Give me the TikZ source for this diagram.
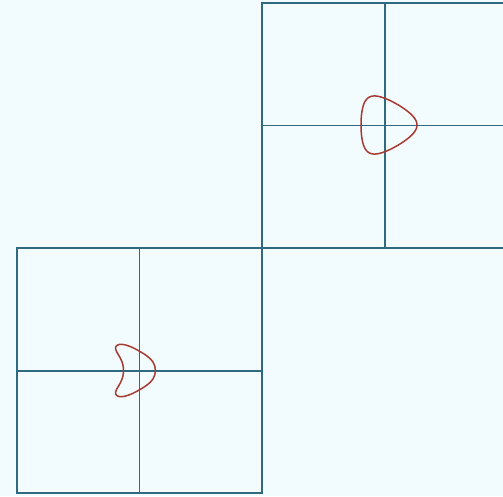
\documentclass[tikz,border=0pt]{standalone}
\begin{document}
\begin{tikzpicture}[x=1pt,y=-1pt,
  outer/.style={draw=gridc,line width=1.9pt},
  inner/.style={draw=gridc,line width=1.2pt},
  curvec/.style={draw=curvecol,line width=1.5pt,line join=round}]
\definecolor{bgc}{HTML}{F2FBFD}
\definecolor{gridc}{HTML}{2F6A80}
\definecolor{curvecol}{HTML}{A83A33}
\fill[bgc] (0,0) rectangle (503,496);
\useasboundingbox (0,0) rectangle (503,496);
% bottom-left square
\coordinate (BL1) at (17,248);
\coordinate (BL2) at (262,493);
\draw[inner] (139.5,248) -- (139.5,493);
\draw[inner] (17,371) -- (262,371);
\draw[outer] (BL1) rectangle (BL2);
% top-right square
\coordinate (TR1) at (262,3.3);
\coordinate (TR2) at (507,248);
\draw[inner] (385,3.3) -- (385,248);
\draw[inner] (262,125.5) -- (507,125.5);
\draw[outer] (TR1) rectangle (TR2);
% top curve (rounded triangle)
\draw[curvec] plot[domain=0:360,samples=120,smooth cycle,variable=\t]
  ({385+28*cos(\t)+4*cos(2*\t)},{125+28*sin(\t)-4*sin(2*\t)});
% bottom curve (crescent)
\draw[curvec] plot[smooth cycle,tension=0.6] coordinates {
  (155.5,370.5) (153,362) (147,356) (140,351.5) (132.5,347.5) (125,344.8)
  (119,344.5) (115.6,347) (116.5,351.5) (120.3,358) (122.8,364.5) (123.5,370.5)
  (122.8,376.5) (120.3,383) (116.5,389.5) (115.6,394) (119,396.5) (125,396.2)
  (132.5,393.5) (140,389.5) (147,385) (153,379)};
\end{tikzpicture}
\end{document}
